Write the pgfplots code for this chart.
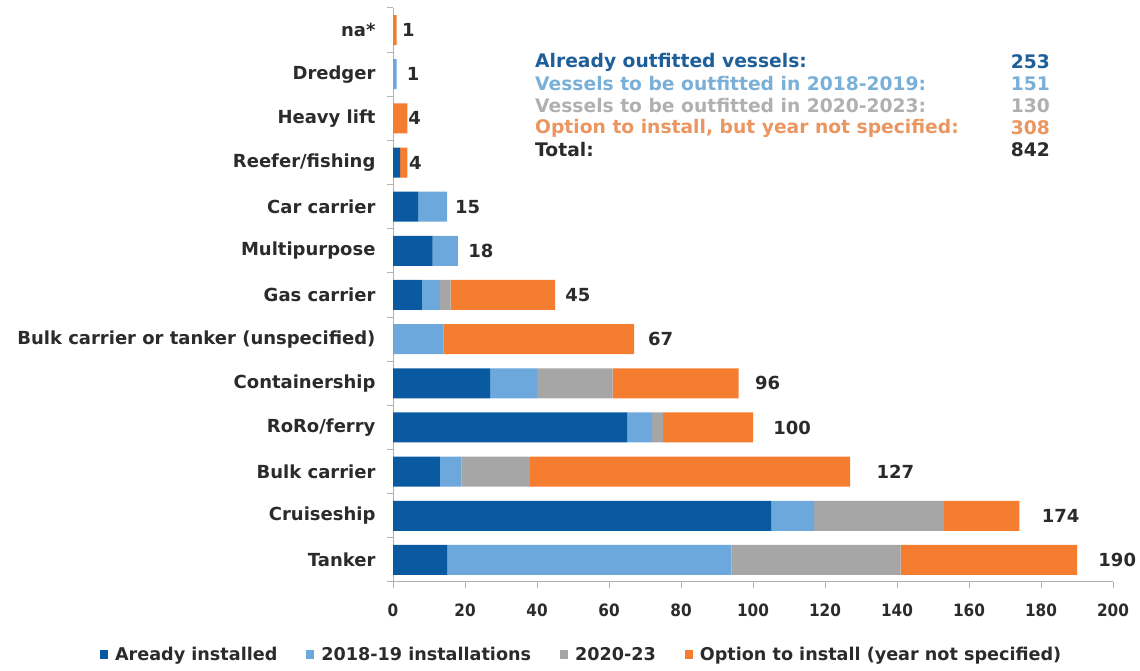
\documentclass[border=0pt]{standalone}
\usepackage{pgfplots}
\pgfplotsset{compat=1.18}
\usepackage{fontspec}
\setmainfont{DejaVu Sans}
\newfontfamily\cond{DejaVu Sans Condensed}
\definecolor{dblue}{HTML}{0A5AA2}
\definecolor{lblue}{HTML}{6CA8DB}
\definecolor{cgray}{HTML}{A6A6A6}
\definecolor{corange}{HTML}{F47D30}
\definecolor{tdblue}{HTML}{1F5F99}
\definecolor{tlblue}{HTML}{7AB0D8}
\definecolor{tgray}{HTML}{B0B0B0}
\definecolor{torange}{HTML}{EA9660}
\definecolor{txt}{HTML}{2B2B2B}
\begin{document}
\begin{tikzpicture}
\path[use as bounding box] (0,0) rectangle (1140pt,671pt);
\begin{axis}[
  at={(393pt,89pt)}, anchor=south west,
  scale only axis, width=720pt, height=574pt,
  xbar stacked, bar width=30pt,
  xmin=0, xmax=200, ymin=-0.5, ymax=12.5,
  xtick={0,20,...,200},
  ytick={0,...,12},
  yticklabels={Tanker,Cruiseship,Bulk carrier,RoRo/ferry,Containership,Bulk carrier or tanker (unspecified),Gas carrier,Multipurpose,Car carrier,Reefer/fishing,Heavy lift,Dredger,na*},
  minor ytick={-0.5,0.5,...,12.5},
  axis lines*=left,
  axis line style={draw=gray!60, line width=1pt},
  major y tick style={draw=none},
  minor y tick style={draw=gray!60, line width=1pt},
  major x tick style={draw=gray!60, line width=1pt},
  tick align=outside,
  major tick length=6pt, minor tick length=6pt,
  /pgf/number format/assume math mode=true,
  yticklabel style={font=\bfseries\fontsize{18}{20}\selectfont, text=txt, xshift=-8pt},
  xticklabel style={font=\cond\bfseries\fontsize{17}{19}\selectfont, text=txt, yshift=-12pt},
  legend style={at={(0.262,-0.127)}, anchor=center, legend columns=4, draw=none, fill=none,
    font=\bfseries\fontsize{17.6}{19}\selectfont, text=txt, inner sep=0pt,
    /tikz/every odd column/.append style={column sep=5pt},
    /tikz/every even column/.append style={column sep=27pt}},
  legend image code/.code={\fill[#1] (0pt,-4.5pt) rectangle (8pt,4.5pt);},
]
\addplot[fill=dblue, draw=none] coordinates {(15,0)(105,1)(13,2)(65,3)(27,4)(0,5)(8,6)(11,7)(7,8)(2,9)(0,10)(0,11)(0,12)};
\addplot[fill=lblue, draw=none] coordinates {(79,0)(12,1)(6,2)(7,3)(13,4)(14,5)(5,6)(7,7)(8,8)(0,9)(0,10)(1,11)(0,12)};
\addplot[fill=cgray, draw=none] coordinates {(47,0)(36,1)(19,2)(3,3)(21,4)(0,5)(3,6)(0,7)(0,8)(0,9)(0,10)(0,11)(0,12)};
\addplot[fill=corange, draw=none] coordinates {(49,0)(21,1)(89,2)(25,3)(35,4)(53,5)(29,6)(0,7)(0,8)(2,9)(4,10)(0,11)(1,12)};
\legend{Aready installed,2018-19 installations,2020-23,Option to install (year not specified)}
\end{axis}
\begin{axis}[
  at={(393pt,89pt)}, anchor=south west,
  scale only axis, width=720pt, height=574pt,
  xmin=0, xmax=200, ymin=-0.5, ymax=12.5, hide axis]
\addplot[draw=none, point meta=explicit symbolic, nodes near coords,
  nodes near coords style={anchor=west, inner sep=0pt, font=\bfseries\fontsize{18}{20}\selectfont, text=txt}]
  coordinates {(195.9,0)[190](180.2,1)[174](134.3,2)[127](105.6,3)[100](100.5,4)[96](70.8,5)[67](47.8,6)[45](20.9,7)[18](17.2,8)[15](4.4,9)[4](4.2,10)[4](3.8,11)[1](2.5,12)[1]};
\end{axis}
\begin{scope}[every node/.style={inner sep=0pt, font=\bfseries\fontsize{18.7}{20}\selectfont}]
\node[anchor=west, text=tdblue] at (535pt,609pt) {Already outfitted vessels:};
\node[anchor=east, text=tdblue] at (1050pt,609pt) {253};
\node[anchor=west, text=tlblue] at (535pt,587pt) {Vessels to be outfitted in 2018-2019:};
\node[anchor=east, text=tlblue] at (1050pt,587pt) {151};
\node[anchor=west, text=tgray] at (535pt,565pt) {Vessels to be outfitted in 2020-2023:};
\node[anchor=east, text=tgray] at (1050pt,565pt) {130};
\node[anchor=west, text=torange] at (535pt,543pt) {Option to install, but year not specified:};
\node[anchor=east, text=torange] at (1050pt,543pt) {308};
\node[anchor=west, text=txt] at (535pt,521pt) {Total:};
\node[anchor=east, text=txt] at (1050pt,521pt) {842};
\end{scope}
\end{tikzpicture}
\end{document}
